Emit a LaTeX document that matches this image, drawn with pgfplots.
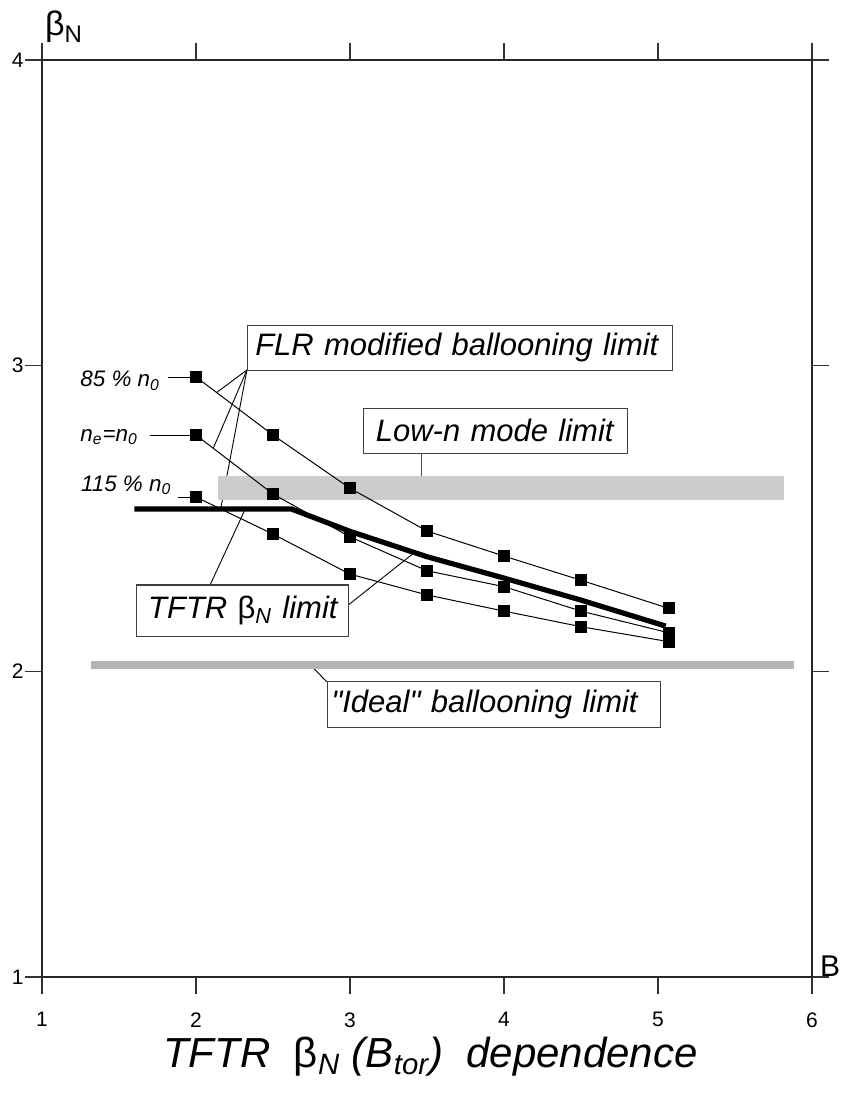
\documentclass[border=0pt]{standalone}
\usepackage{pgfplots}
\pgfplotsset{compat=1.18}
\usepackage{fontspec}
\setmainfont{Liberation Sans}
\newfontfamily\qfont{Liberation Sans}
\definecolor{bandA}{HTML}{CCCCCC}
\definecolor{bandB}{HTML}{B3B3B3}
\tikzset{
  boxlab/.style={draw=black!75, line width=0.6pt, fill=white, inner xsep=4pt, inner ysep=0pt,
     font=\fontsize{15.5}{16}\selectfont\itshape, align=left, anchor=west},
  serie/.style={black, line width=0.5pt, mark=square*, mark size=2.8pt, mark options={solid}},
}
\begin{document}
\begin{tikzpicture}
\useasboundingbox (-21pt,-62pt) rectangle (400pt,488.5pt);
\begin{axis}[
  at={(0pt,0pt)}, anchor=south west,
  scale only axis, width=385pt, height=458.5pt,
  xmin=1, xmax=6, ymin=1, ymax=4,
  xtick={1,2,3,4,5,6}, ytick={1,2,3,4},
  tick align=outside, major tick length=8.5pt,
  axis line style={black!85, line width=0.6pt},
  every tick/.style={black!80, line width=0.6pt},
  ticklabel style={font=\fontsize{10.5}{11}\selectfont, inner sep=0.5pt},
  xticklabel shift=8.5pt,
  /pgf/number format/assume math mode=true,
  clip=false,
]
% connector lines (drawn first)
\draw[black, line width=0.45pt] (axis cs:2.331,2.986) -- (axis cs:2.134,2.912);
\draw[black, line width=0.45pt] (axis cs:2.331,2.986) -- (axis cs:2.112,2.730);
\draw[black, line width=0.45pt] (axis cs:2.331,2.986) -- (axis cs:2.160,2.531);
\draw[black, line width=0.45pt] (axis cs:2.091,2.282) -- (axis cs:2.32,2.531);
\draw[black, line width=0.45pt] (axis cs:2.989,2.217) -- (axis cs:3.422,2.390);
\draw[black!70, line width=0.6pt] (axis cs:3.466,2.713) -- (axis cs:3.466,2.600);
\draw[black, line width=0.45pt] (axis cs:2.736,2.024) -- (axis cs:2.849,1.966);
% bands
\addplot[draw=none, fill=bandA] coordinates {(2.145,2.560) (5.82,2.560) (5.82,2.639) (2.145,2.639)};
\addplot[draw=none, fill=bandB] coordinates {(1.315,2.009) (5.88,2.009) (5.88,2.035) (1.315,2.035)};
% leaders
\addplot[black, line width=0.45pt] coordinates {(1.818,2.963) (2,2.963)};
\addplot[black, line width=0.45pt] coordinates {(1.701,2.773) (2,2.773)};
\addplot[black, line width=0.45pt] coordinates {(1.883,2.570) (2,2.570)};
% series
\addplot[serie] coordinates {(2,2.963) (2.5,2.773) (3,2.599) (3.5,2.459) (4,2.377) (4.5,2.298) (5.07,2.206)};
\addplot[serie] coordinates {(2,2.773) (2.5,2.580) (3,2.440) (3.5,2.329) (4,2.277) (4.5,2.197) (5.07,2.126)};
\addplot[serie] coordinates {(2,2.570) (2.5,2.449) (3,2.318) (3.5,2.250) (4,2.197) (4.5,2.146) (5.07,2.097)};
% TFTR limit
\addplot[black, line width=2.6pt] coordinates {(1.6,2.531) (2.62,2.531) (3.0,2.458) (3.5,2.375) (4,2.305) (4.5,2.233) (5.05,2.148)};
% labels
\node[boxlab, minimum width=212.5pt, minimum height=22.5pt, text width=204.5pt] at (axis cs:2.329,3.059) {FLR modified ballooning limit};
\node[boxlab, minimum width=132pt, minimum height=22.5pt, text width=124pt] at (axis cs:3.086,2.787) {\hspace{2pt}Low-n mode limit};
\node[boxlab, minimum width=166.7pt, minimum height=22.8pt, text width=158.7pt] at (axis cs:2.849,1.891) {\hspace{-2pt}{\qfont\itshape"}Ideal{\qfont\itshape"} ballooning limit};
\node[boxlab, minimum width=106pt, minimum height=25.8pt, text width=98pt, align=center] at (axis cs:1.612,2.198) {TFTR \textup{β}\textsubscript{\itshape N} limit};
\node[anchor=west, inner sep=0pt, font=\fontsize{11.2}{12}\selectfont\itshape] at (axis cs:1.247,2.950) {85 \% n\textsubscript{0}};
\node[anchor=west, inner sep=0pt, font=\fontsize{11.2}{12}\selectfont\itshape] at (axis cs:1.247,2.767) {n\textsubscript{e}=n\textsubscript{0}};
\node[anchor=west, inner sep=0pt, font=\fontsize{11.2}{12}\selectfont\itshape] at (axis cs:1.251,2.609) {115 \% n\textsubscript{0}};
\end{axis}
\node at (10.75pt,475pt) {\fontsize{17}{17}\selectfont β\raisebox{-0.35ex}{\fontsize{12}{12}\selectfont N}};
\node at (394pt,5.5pt) {\fontsize{15}{15}\selectfont B};
\node at (194.25pt,-40pt) {\fontsize{21}{22}\selectfont\itshape TFTR\ \ \textup{β}\textsubscript{N} (B\textsubscript{tor})\ \ dependence};
\end{tikzpicture}
\end{document}
